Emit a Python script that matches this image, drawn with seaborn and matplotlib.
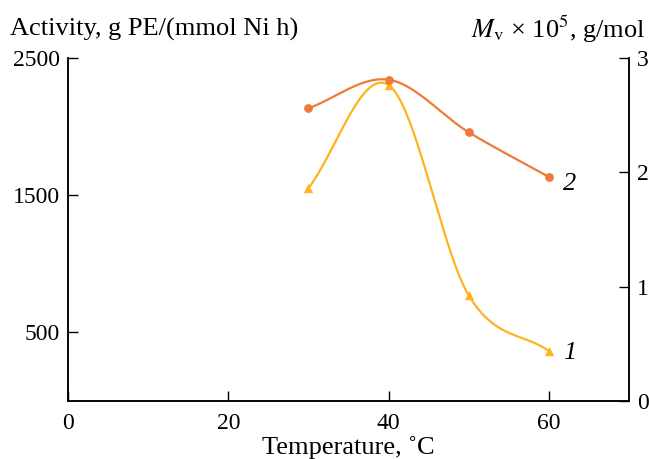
import matplotlib
matplotlib.use("Agg")
import matplotlib.pyplot as plt
import numpy as np
import pandas as pd
import seaborn as sns

# data
temperature = [30, 40, 50, 60]
activity = [1551, 2303, 770, 365]          # curve 1, left axis
mv = [2.56, 2.81, 2.35, 1.96]              # curve 2, right axis (x 10^5 g/mol)

left_ticks = [500, 1500, 2500]
right_ticks = [0, 1, 2, 3]
x_ticks = [0, 20, 40, 60]

color_1 = "#FFB41E"
color_2 = "#EF7A3A"


def smooth(x, y, n=200):
    """Cubic Hermite curve through the points (finite-difference tangents)."""
    x = np.asarray(x, float)
    y = np.asarray(y, float)
    m = np.gradient(y, x)
    xs, ys = [], []
    for i in range(len(x) - 1):
        h = x[i + 1] - x[i]
        t = np.linspace(0, 1, n)
        h00 = 2 * t**3 - 3 * t**2 + 1
        h10 = t**3 - 2 * t**2 + t
        h01 = -2 * t**3 + 3 * t**2
        h11 = t**3 - t**2
        xs.append(x[i] + t * h)
        ys.append(h00 * y[i] + h10 * h * m[i] + h01 * y[i + 1] + h11 * h * m[i + 1])
    return np.concatenate(xs), np.concatenate(ys)


sns.set_theme(style="ticks")
plt.rcParams["font.family"] = ["Liberation Serif", "DejaVu Serif"]
plt.rcParams["mathtext.fontset"] = "stix"
plt.rcParams["text.color"] = "black"

fig = plt.figure(figsize=(6.49, 4.59), dpi=100)
ax = fig.add_axes([0.1048, 0.1264, 0.8644, 0.7473])
ax2 = ax.twinx()

df1 = pd.DataFrame({"T": temperature, "A": activity})
df2 = pd.DataFrame({"T": temperature, "M": mv})

sx1, sy1 = smooth(temperature, activity)
sx2, sy2 = smooth(temperature, mv)

sns.lineplot(x=sx1, y=sy1, ax=ax, color=color_1, linewidth=1.6, sort=False)
sns.scatterplot(data=df1, x="T", y="A", ax=ax, color=color_1, marker="^",
                s=45, linewidth=0, zorder=3)
sns.lineplot(x=sx2, y=sy2, ax=ax2, color=color_2, linewidth=1.6, sort=False)
sns.scatterplot(data=df2, x="T", y="M", ax=ax2, color=color_2, marker="o",
                s=40, linewidth=0, zorder=3)

ax.set_xlim(0, 70)
ax.set_ylim(0, 2500)
ax2.set_ylim(0, 3)
ax.set_xticks(x_ticks)
ax.set_yticks(left_ticks)
ax2.set_yticks(right_ticks)

for a in (ax, ax2):
    a.tick_params(direction="in", length=7, width=1, labelsize=17,
                  colors="black", pad=6)
    for s in a.spines.values():
        s.set_visible(True)
        s.set_linewidth(1.1)
        s.set_color("black")
ax.spines["top"].set_visible(False)
ax2.spines["top"].set_visible(False)
ax.tick_params(axis="y", pad=6)
ax.tick_params(axis="x", pad=9)

ax.set_xlabel("Temperature, ˚C", fontsize=19, labelpad=1, color="black")
ax.set_ylabel("")
ax2.set_ylabel("")

fig.text(0.015, 0.935, "Activity, g PE/(mmol Ni h)", fontsize=19, ha="left", va="center")
fig.text(0.995, 0.935, r"$M_{\rm v}$ × 10$^5$, g/mol", fontsize=19, ha="right", va="center")

ax.text(61.8, activity[-1] - 15, "1", fontsize=19, style="italic", va="center")
ax2.text(61.8, mv[-1] - 0.06, "2", fontsize=19, style="italic", va="center")

fig.savefig("out.png", dpi=100)
